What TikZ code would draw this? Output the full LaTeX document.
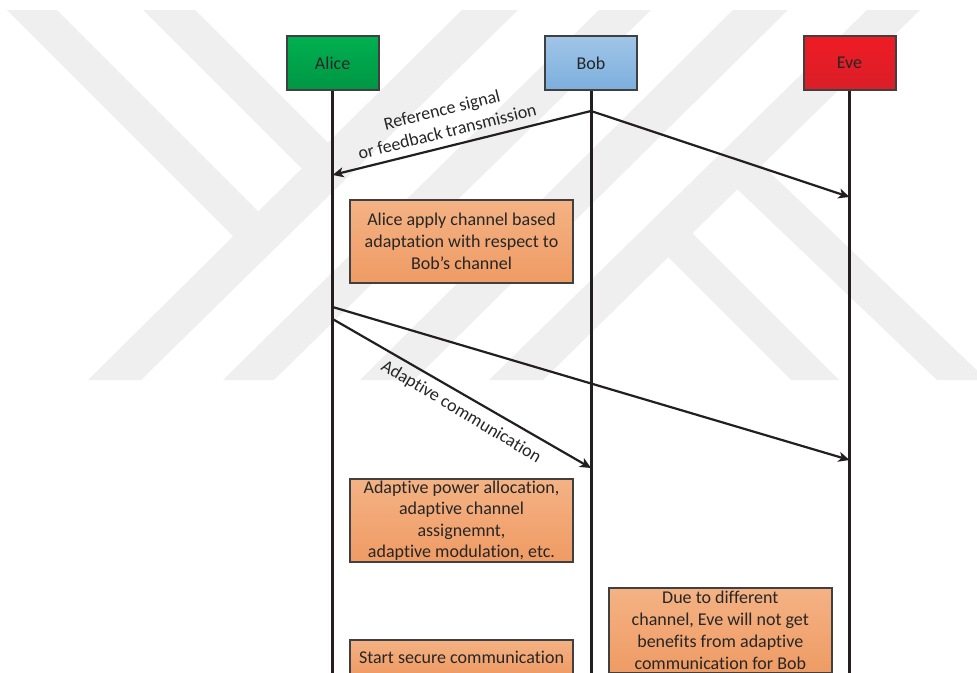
\documentclass[tikz,border=0pt]{standalone}
\usepackage{fontspec}
\setmainfont{Carlito}[Ligatures=NoCommon]
\usetikzlibrary{arrows.meta}

% palette
\definecolor{wm}{RGB}{239,239,239}
\definecolor{ink}{RGB}{35,31,32}
\definecolor{frame}{RGB}{64,64,64}
\definecolor{txt}{RGB}{38,38,38}
\definecolor{alicetop}{RGB}{0,176,80}
\definecolor{alicebot}{RGB}{0,150,68}
\definecolor{bobtop}{RGB}{160,197,231}
\definecolor{bobbot}{RGB}{124,175,222}
\definecolor{evetop}{RGB}{238,28,36}
\definecolor{evebot}{RGB}{218,30,40}
\definecolor{notetop}{RGB}{244,178,132}
\definecolor{notebot}{RGB}{239,155,100}

\tikzset{
  basefont/.style={font=\fontsize{18}{22}\selectfont, text=txt},
  actor/.style={basefont, draw=frame, line width=2pt, minimum width=92pt,
    minimum height=54pt, inner sep=0pt},
  note/.style={basefont, draw=frame, line width=2pt, top color=notetop,
    bottom color=notebot, minimum width=223pt, inner sep=0pt, align=center},
  lifeline/.style={draw=ink, line width=3pt},
  msg/.style={draw=ink, line width=2.2pt,
    -{Stealth[length=11pt,width=10pt,inset=3pt]}},
  msglabel/.style={basefont, align=center, inner sep=0pt},
}

\begin{document}
\begin{tikzpicture}[x=1pt,y=-1pt]
\clip (0,0) rectangle (977,672);
\fill[white] (0,0) rectangle (977,672);

% faint background emblem: four slanted bands with branching strokes
\begin{scope}[wm]
  \fill (462,10) -- (518,10) -- (141,380) -- (88,380) -- cycle;
  \fill (599,10) -- (651,10) -- (274,380) -- (223,380) -- cycle;
  \fill (733,10) -- (788,10) -- (414,380) -- (360,380) -- cycle;
  \fill (867,10) -- (920,10) -- (543,380) -- (489,380) -- cycle;
  \fill (7,10) -- (57,10) -- (262,215) -- (237,240) -- cycle;
  \fill (143,10) -- (195,10) -- (331,146) -- (305,172) -- cycle;
  \fill (688,229) -- (664,253) -- (791,380) -- (839,380) -- cycle;
  \fill (758,161) -- (734,186) -- (937,380) -- (987,380) -- cycle;
\end{scope}

% participants
\node[actor, top color=alicetop, bottom color=alicebot] (alice) at (332.6,63) {Alice};
\node[actor, top color=bobtop, bottom color=bobbot] (bob) at (591,63) {Bob};
\node[actor, top color=evetop, bottom color=evebot] (eve) at (849.5,63) {Eve};

% lifelines
\coordinate (alice-end) at (332.6,690);
\coordinate (bob-end) at (591,690);
\coordinate (eve-end) at (849.5,690);
\draw[lifeline] (alice.south) -- (alice-end);
\draw[lifeline] (bob.south) -- (bob-end);
\draw[lifeline] (eve.south) -- (eve-end);

% message points on the lifelines
\coordinate (bob-send) at (591,111);
\coordinate (alice-ref) at (332.6,175);
\coordinate (eve-ref) at (849.5,197);
\coordinate (alice-send1) at (332.6,307);
\coordinate (alice-send2) at (332.6,319);
\coordinate (eve-adapt) at (849.5,460);
\coordinate (bob-adapt) at (591,468);

% messages
\draw[msg] (bob-send) -- (alice-ref);
\draw[msg] (bob-send) -- (eve-ref);
\draw[msg] (alice-send1) -- (eve-adapt);
\draw[msg] (alice-send2) -- (bob-adapt);

\node[msglabel, rotate=14] (reflabel) at (444.5,120.5)
  {Reference signal\\or feedback transmission};
\node[msglabel, rotate=-31] (adaptlabel) at (461,412) {Adaptive communication};

% notes
\node[note, minimum height=83pt] (adaptnote) at (461.5,241.7)
  {Alice apply channel based\\adaptation with respect to\\Bob’s channel};
\node[note, minimum height=83pt, font=\fontsize{18}{21.4}\selectfont] (allocnote) at (461.5,520.5)
  {Adaptive power allocation,\\adaptive channel\\assignemnt,\\adaptive modulation, etc.};
\node[note, minimum height=35pt] (securenote) at (461.5,657)
  {Start secure communication};
\node[note, minimum height=85pt] (evenote) at (720.3,630.5)
  {Due to different\\channel, Eve will not get\\benefits from adaptive\\communication for Bob};
\end{tikzpicture}
\end{document}
